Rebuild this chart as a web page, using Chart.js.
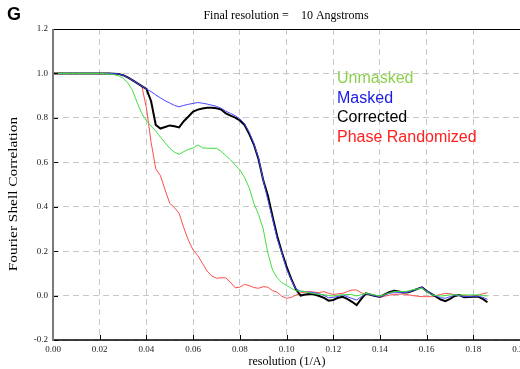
<!DOCTYPE html>
<html>
<head>
<meta charset="utf-8">
<script src="https://cdn.jsdelivr.net/npm/chart.js@4"></script>
<style>
  html, body { margin: 0; padding: 0; background: #fff; overflow: hidden; }
  canvas { display: block; }
</style>
</head>
<body>
<canvas id="fsc" width="532" height="369"></canvas>
<script>
// resolution (1/A), one sample every 0.002
const resolution = [
  0.000, 0.002, 0.004, 0.006, 0.008, 0.010, 0.012, 0.014, 0.016, 0.018, 0.020,
  0.022, 0.024, 0.026, 0.028, 0.030, 0.032, 0.034, 0.036, 0.038, 0.040,
  0.042, 0.044, 0.046, 0.048, 0.050, 0.052, 0.054, 0.056, 0.058, 0.060,
  0.062, 0.064, 0.066, 0.068, 0.070, 0.072, 0.074, 0.076, 0.078, 0.080,
  0.082, 0.084, 0.086, 0.088, 0.090, 0.092, 0.094, 0.096, 0.098, 0.100,
  0.102, 0.104, 0.106, 0.108, 0.110, 0.112, 0.114, 0.116, 0.118, 0.120,
  0.122, 0.124, 0.126, 0.128, 0.130, 0.132, 0.134, 0.136, 0.138, 0.140,
  0.142, 0.144, 0.146, 0.148, 0.150, 0.152, 0.154, 0.156, 0.158, 0.160,
  0.162, 0.164, 0.166, 0.168, 0.170, 0.172, 0.174, 0.176, 0.178, 0.180,
  0.182, 0.184, 0.186
];

const unmasked = [
  1, 1, 1, 1, 1, 1, 1, 1, 1, 1, 1,
  0.999, 0.997, 0.995, 0.99, 0.978, 0.958, 0.925, 0.87, 0.82, 0.787,
  0.763, 0.74, 0.713, 0.688, 0.663, 0.645, 0.636, 0.648, 0.658, 0.665,
  0.678, 0.665, 0.663, 0.663, 0.663, 0.649, 0.63, 0.61, 0.588, 0.566,
  0.532, 0.485, 0.415, 0.365, 0.3, 0.19, 0.115, 0.08, 0.058, 0.046,
  0.033, 0.022, 0.02, 0.018, 0.012, 0.008, 0.006, 0.004, 0.0, -0.002,
  0.002, 0.003, 0.005, 0.004, -0.002, 0.004, 0.01, 0.006, 0.002, -0.002,
  0.005, 0.012, 0.018, 0.018, 0.018, 0.02, 0.026, 0.03, 0.033, 0.018,
  0.003, 0.0, -0.002, 0.0, 0.003, 0.003, 0.002, 0.003, 0.003, 0.003,
  0.003, 0.0, -0.002
];

const masked = [
  1, 1, 1, 1, 1, 1, 1, 1, 1, 1, 1,
  1, 1, 0.999, 0.998, 0.992, 0.982, 0.97, 0.956, 0.943, 0.93,
  0.918, 0.903, 0.89, 0.877, 0.867, 0.856, 0.85, 0.856, 0.861, 0.865,
  0.869, 0.866, 0.862, 0.857, 0.852, 0.843, 0.83, 0.82, 0.81, 0.795,
  0.774, 0.735, 0.685, 0.62, 0.52, 0.43, 0.345, 0.255, 0.19, 0.12,
  0.07, 0.03, 0.02, 0.018, 0.015, 0.013, 0.008, 0.0, -0.01, -0.008,
  -0.004, 0.003, -0.005, -0.013, -0.02, -0.005, 0.01, 0.004, -0.002, -0.005,
  0.003, 0.01, 0.013, 0.013, 0.013, 0.016, 0.022, 0.03, 0.037, 0.02,
  0.008, -0.002, -0.01, -0.012, -0.005, 0.002, 0.0, -0.005, -0.004, -0.003,
  -0.003, -0.008, -0.017
];

const corrected = [
  1, 1, 1, 1, 1, 1, 1, 1, 1, 1, 1,
  1, 1, 0.999, 0.998, 0.992, 0.982, 0.97, 0.956, 0.943, 0.93,
  0.875, 0.768, 0.752, 0.759, 0.766, 0.762, 0.757, 0.785, 0.806, 0.828,
  0.837, 0.842, 0.845, 0.846, 0.843, 0.838, 0.82, 0.81, 0.801, 0.788,
  0.768, 0.728, 0.68, 0.614, 0.52, 0.45, 0.356, 0.267, 0.195, 0.13,
  0.075, 0.028, 0.0, 0.005, 0.007, 0.005, -0.002, -0.01, -0.023, -0.02,
  -0.01, -0.006, -0.015, -0.028, -0.043, -0.015, 0.01, 0.004, -0.002, -0.005,
  0.005, 0.015, 0.022, 0.018, 0.014, 0.015, 0.022, 0.03, 0.037, 0.02,
  0.008, -0.005, -0.018, -0.025, -0.015, -0.002, 0.002, -0.008, -0.006, -0.005,
  -0.005, -0.015, -0.03
];

const phaseRandomized = [
  1, 1, 1, 1, 1, 1, 1, 1, 1, 1, 1,
  1, 1, 0.999, 0.998, 0.992, 0.982, 0.97, 0.956, 0.945, 0.844,
  0.69, 0.57, 0.54, 0.475, 0.415, 0.396, 0.37, 0.305, 0.248, 0.205,
  0.18, 0.145, 0.11, 0.088, 0.078, 0.08, 0.08, 0.06, 0.035, 0.038,
  0.05, 0.045, 0.036, 0.033, 0.04, 0.038, 0.022, 0.015, -0.003, -0.012,
  -0.008, 0.002, 0.012, 0.016, 0.018, 0.015, 0.014, 0.018, 0.01, 0.005,
  0.008, 0.01, 0.018, 0.025, 0.025, 0.012, 0.007, 0.002, -0.004, -0.008,
  -0.003, 0.002, 0.004, 0.006, 0.007, 0.004, 0.0, -0.003, -0.005, -0.005,
  -0.005, 0.0, 0.005, 0.01, 0.008, 0.004, 0.003, 0.0, -0.002, -0.002,
  0.002, 0.008, 0.013
];

const xTicks = [0, 0.02, 0.04, 0.06, 0.08, 0.1, 0.12, 0.14, 0.16, 0.18, 0.2];
const yTicks = [-0.2, 0, 0.2, 0.4, 0.6, 0.8, 1.0, 1.2];

const legendItems = [
  ['Unmasked', '#8fd14f'],
  ['Masked', '#1a1ae6'],
  ['Corrected', '#000000'],
  ['Phase Randomized', '#ff2020']
];

const serif = '"Liberation Serif", "DejaVu Serif", serif';
const sans = '"Liberation Sans", Arial, sans-serif';

const points = ys => resolution.map((x, i) => ({x: x, y: ys[i]}));

// ticks inside the frame, frame lines, titles and the text legend
const decorations = {
  id: 'decorations',
  afterDraw(chart) {
    const {ctx, chartArea: a, scales} = chart;
    ctx.save();

    ctx.strokeStyle = '#000';
    ctx.lineWidth = 1;
    ctx.beginPath();
    yTicks.forEach(v => {
      const py = Math.round(scales.y.getPixelForValue(v)) + 0.5;
      ctx.moveTo(a.left, py);
      ctx.lineTo(a.left + 5, py);
    });
    xTicks.forEach(v => {
      const px = Math.round(scales.x.getPixelForValue(v)) + 0.5;
      ctx.moveTo(px, a.bottom);
      ctx.lineTo(px, a.bottom - 5);
    });
    ctx.stroke();

    // top and right
    ctx.beginPath();
    ctx.moveTo(a.left, a.top + 0.5);
    ctx.lineTo(a.right + 0.5, a.top + 0.5);
    ctx.lineTo(a.right + 0.5, a.bottom);
    ctx.stroke();
    // bottom
    ctx.lineWidth = 1.5;
    ctx.beginPath();
    ctx.moveTo(a.left, a.bottom);
    ctx.lineTo(a.right + 1, a.bottom);
    ctx.stroke();
    // left, grey
    ctx.strokeStyle = '#7a7a7a';
    ctx.lineWidth = 2;
    ctx.beginPath();
    ctx.moveTo(a.left, a.top);
    ctx.lineTo(a.left, a.bottom + 1);
    ctx.stroke();

    ctx.fillStyle = '#000';
    ctx.font = 'bold 18px ' + sans;
    ctx.textAlign = 'left';
    ctx.textBaseline = 'alphabetic';
    ctx.fillText('G', 7, 20);

    ctx.font = '12px ' + serif;
    ctx.textAlign = 'center';
    ctx.fillText('Final resolution =    10 Angstroms', 286, 19);
    ctx.fillText('resolution (1/A)', 287, 365);

    // the y title is stretched along its length in the original
    ctx.save();
    ctx.translate(17, 194);
    ctx.rotate(-Math.PI / 2);
    ctx.scale(1.28, 1);
    ctx.fillText('Fourier Shell Correlation', 0, 0);
    ctx.restore();

    ctx.font = '16px ' + sans;
    ctx.textAlign = 'left';
    legendItems.forEach((item, i) => {
      ctx.fillStyle = item[1];
      ctx.fillText(item[0], 337, 83 + i * 19.7);
    });

    ctx.restore();
  }
};

new Chart(document.getElementById('fsc'), {
  type: 'line',
  data: {
    datasets: [
      {label: 'Unmasked', data: points(unmasked), borderColor: '#3fe03f', borderWidth: 1},
      {label: 'Masked', data: points(masked), borderColor: '#4848ff', borderWidth: 1},
      {label: 'Corrected', data: points(corrected), borderColor: '#000000', borderWidth: 2},
      {label: 'Phase Randomized', data: points(phaseRandomized), borderColor: '#ff4d4d', borderWidth: 1}
    ]
  },
  options: {
    responsive: false,
    animation: false,
    layout: {padding: {top: 29, left: 0, right: 0, bottom: 0}},
    elements: {point: {radius: 0}, line: {tension: 0}},
    plugins: {legend: {display: false}, tooltip: {enabled: false}},
    scales: {
      x: {
        type: 'linear',
        min: 0,
        max: 0.2,
        afterBuildTicks: s => { s.ticks = xTicks.map(v => ({value: v})); },
        afterFit: s => { s.height = 29; },
        grid: {color: '#c8c8c8', lineWidth: 1, drawTicks: false},
        border: {display: false, dash: [6, 4]},
        ticks: {
          padding: 4,
          color: '#222',
          font: {family: serif, size: 9},
          maxRotation: 0,
          callback: v => v.toFixed(2)
        }
      },
      y: {
        min: -0.2,
        max: 1.2,
        afterBuildTicks: s => { s.ticks = yTicks.map(v => ({value: v})); },
        afterFit: s => { s.width = 53; },
        grid: {color: '#c8c8c8', lineWidth: 1, drawTicks: false},
        border: {display: false, dash: [6, 4]},
        ticks: {
          padding: 5,
          color: '#222',
          font: {family: serif, size: 9},
          callback: v => v.toFixed(1)
        }
      }
    }
  },
  plugins: [decorations]
});
</script>
</body>
</html>
